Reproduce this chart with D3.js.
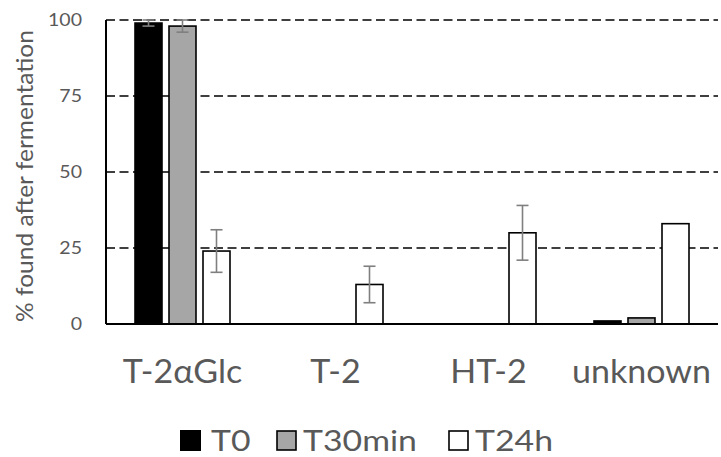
<!DOCTYPE html>
<html>
<head>
<meta charset="utf-8">
<script src="https://cdn.jsdelivr.net/npm/d3@7"></script>
<style>
  html, body { margin: 0; padding: 0; background: #fff; }
  svg { display: block; font-family: Lato, "Open Sans", sans-serif; }
</style>
</head>
<body>
<svg id="chart" width="721" height="457"></svg>
<script>
// Compounds measured and the sampling time points
const categories = ["T-2\u03b1Glc", "T-2", "HT-2", "unknown"];
const seriesNames = ["T0", "T30min", "T24h"];
const seriesFill = ["#000000", "#a6a6a6", "#ffffff"];

// Percentage found per compound, one array per time point
const valuesT0 = [99, 0, 0, 1];
const valuesT30 = [98, 0, 0, 2];
const valuesT24 = [24, 13, 30, 33];

// Standard deviations (null = no error bar drawn)
const errT0 = [1, null, null, null];
const errT30 = [2, null, null, null];
const errT24 = [7, 6, 9, null];

const yTicks = [0, 25, 50, 75, 100];

const values = [valuesT0, valuesT30, valuesT24];
const errors = [errT0, errT30, errT24];

const svg = d3.select("#chart");
const plotL = 106, plotR = 718, plotT = 20, plotB = 324;
const textColor = "#595959";

// Horizontal stretch factor that makes `str` at `size` px span `target` px
function stretchFor(str, size, target) {
  const t = svg.append("text").style("font-size", size + "px").text(str);
  const w = t.node().getComputedTextLength();
  t.remove();
  return w > 0 ? target / w : 1;
}

const x0 = d3.scaleBand().domain(categories).range([plotL, plotR]).padding(0);
const groupW = 95;
const x1 = d3.scaleBand().domain(seriesNames)
  .range([(x0.bandwidth() - groupW) / 2, (x0.bandwidth() + groupW) / 2])
  .paddingInner(0.206).paddingOuter(0);
const y = d3.scaleLinear().domain([0, 100]).range([plotB, plotT]);

// Dashed horizontal gridlines
svg.append("g").selectAll("line")
  .data(yTicks.filter(d => d > 0))
  .join("line")
  .attr("x1", plotL).attr("x2", plotR)
  .attr("y1", d => y(d)).attr("y2", d => y(d))
  .attr("stroke", "#000").attr("stroke-width", 1.6)
  .attr("stroke-dasharray", "9,4.5");

// Y axis tick labels (slightly widened glyphs)
const tickSize = 16.5;
const tickSx = stretchFor("100", tickSize, 34);
const yAxis = d3.axisLeft(y).tickValues(yTicks).tickSize(0).tickPadding(0);
const gy = svg.append("g").attr("transform", `translate(${plotL},0)`).call(yAxis);
gy.select(".domain").remove();
gy.selectAll(".tick text")
  .attr("x", 0).attr("dy", "0.36em")
  .attr("transform", `translate(-24,0) scale(${tickSx},1)`)
  .attr("fill", textColor)
  .style("font-size", tickSize + "px")
  .style("font-family", "Lato, 'Open Sans', sans-serif");

// Bars
const rows = [];
categories.forEach((c, ci) => {
  seriesNames.forEach((s, si) => {
    rows.push({ c, s, si, v: values[si][ci], e: errors[si][ci] });
  });
});

svg.append("g").selectAll("rect")
  .data(rows.filter(d => d.v > 0))
  .join("rect")
  .attr("x", d => x0(d.c) + x1(d.s))
  .attr("y", d => y(d.v))
  .attr("width", x1.bandwidth())
  .attr("height", d => y(0) - y(d.v))
  .attr("fill", d => seriesFill[d.si])
  .attr("stroke", "#000").attr("stroke-width", 1.6);

// Error bars
const eg = svg.append("g").attr("stroke", "#7f7f7f").attr("stroke-width", 1.6);
rows.filter(d => d.e != null).forEach(d => {
  const cx = x0(d.c) + x1(d.s) + x1.bandwidth() / 2;
  const hi = y(d.v + d.e), lo = y(d.v - d.e);
  eg.append("line").attr("x1", cx).attr("x2", cx).attr("y1", hi).attr("y2", lo);
  eg.append("line").attr("x1", cx - 6).attr("x2", cx + 6).attr("y1", hi).attr("y2", hi);
  eg.append("line").attr("x1", cx - 6).attr("x2", cx + 6).attr("y1", lo).attr("y2", lo);
});

// Axis lines
svg.append("line").attr("x1", plotL).attr("x2", plotL).attr("y1", plotT).attr("y2", plotB)
  .attr("stroke", "#000").attr("stroke-width", 2);
svg.append("line").attr("x1", plotL).attr("x2", plotR).attr("y1", plotB).attr("y2", plotB)
  .attr("stroke", "#000").attr("stroke-width", 2);

// Category labels
const catSize = 32;
const catSx = stretchFor("unknown", catSize, 139);
svg.append("g").selectAll("text")
  .data(categories)
  .join("text")
  .attr("transform", d => `translate(${x0(d) + x0.bandwidth() / 2},383) scale(${catSx},1)`)
  .attr("text-anchor", "middle")
  .attr("fill", textColor)
  .style("font-size", catSize + "px")
  .text(d => d);

// Y axis title
const titleSize = 24;
const titleText = "% found after fermentation";
const titleSx = stretchFor(titleText, titleSize, 292);
svg.append("text")
  .attr("transform", `translate(33,176) rotate(-90) scale(${titleSx},1)`)
  .attr("text-anchor", "middle")
  .attr("fill", textColor)
  .style("font-size", titleSize + "px")
  .text(titleText);

// Legend
const legendX = [180, 276, 448];
const legendTextX = [211, 303, 475];
const legendY = 430;
const legSize = 29;
const legSx = stretchFor("T30min", legSize, 114);
const lg = svg.append("g");
seriesNames.forEach((s, i) => {
  lg.append("rect")
    .attr("x", legendX[i] + (i === 0 ? 0 : 1)).attr("y", legendY + (i === 0 ? 0 : 1))
    .attr("width", i === 0 ? 21 : 19).attr("height", i === 0 ? 21 : 19)
    .attr("fill", seriesFill[i])
    .attr("stroke", i === 0 ? "none" : "#000").attr("stroke-width", 1.6);
  lg.append("text")
    .attr("transform", `translate(${legendTextX[i]},${legendY + 21}) scale(${legSx},1)`)
    .attr("fill", textColor)
    .style("font-size", legSize + "px")
    .text(s);
});
</script>
</body>
</html>
